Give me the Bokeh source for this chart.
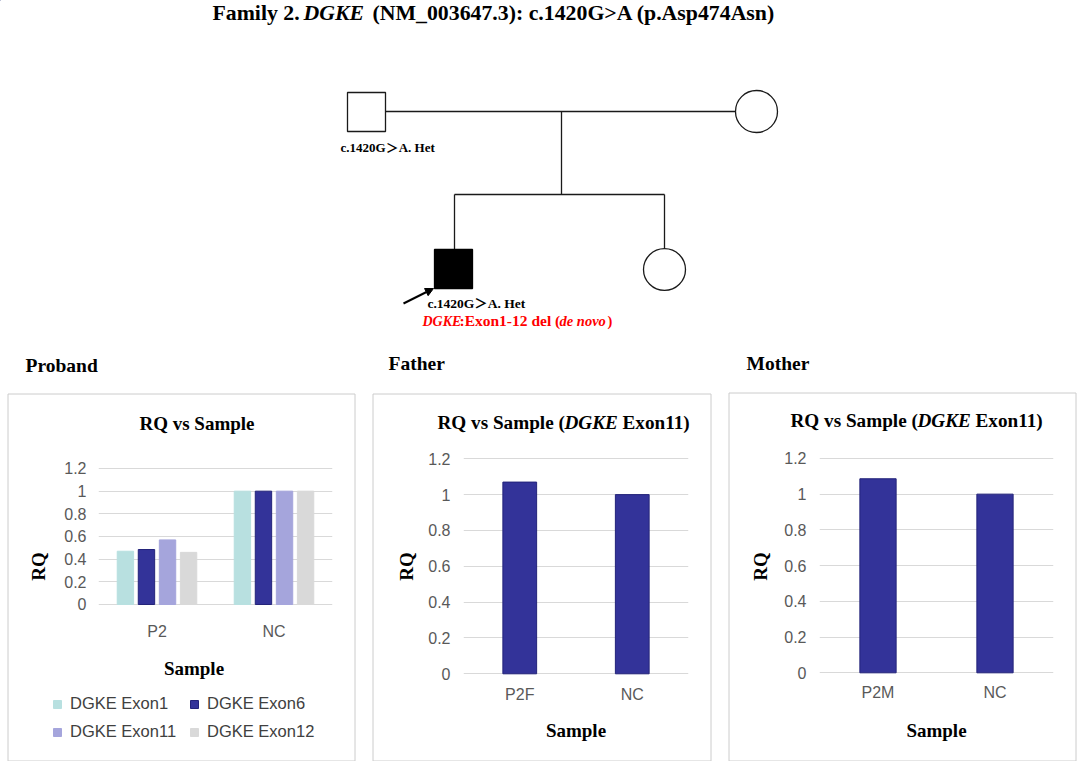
from bokeh.plotting import figure
from bokeh.models import (Range1d, FactorRange, Legend, LegendItem, FixedTicker,
                          Arrow, NormalHead, ColumnDataSource, Spacer)
from bokeh.layouts import column, row
from bokeh.transform import dodge
from bokeh.core.properties import value
from bokeh.embed import file_html
from bokeh.resources import INLINE

# ---------------- data ----------------
proband_samples = ["P2", "NC"]
exon_names = ["DGKE Exon1", "DGKE Exon6", "DGKE Exon11", "DGKE Exon12"]
exon1_rq = [0.47, 1.0]
exon6_rq = [0.485, 1.0]
exon11_rq = [0.57, 1.0]
exon12_rq = [0.46, 1.0]
father_samples = ["P2F", "NC"]
father_rq = [1.07, 1.0]
mother_samples = ["P2M", "NC"]
mother_rq = [1.086, 1.0]
y_ticks = [0, 0.2, 0.4, 0.6, 0.8, 1.0, 1.2]
y_tick_labels = ["0", "0.2", "0.4", "0.6", "0.8", "1", "1.2"]

SERIF = "'Liberation Serif', 'Times New Roman', 'Noto Sans CJK SC', serif"
SANS = "'Liberation Sans', Arial, sans-serif"
BOX = "#cccccc"
fills = ["#b8e0e0", "#333399", "#a5a5dc", "#d9d9d9"]
lines = ["#b8e0e0", "#23237a", "#a5a5dc", "#d9d9d9"]

# ---------------- background page: title, pedigree, headings, boxes ----------------
PAGE_H = 761
CH_H = 321
bg = figure(width=1084, height=PAGE_H, x_range=Range1d(0, 1084), y_range=Range1d(PAGE_H, 0),
            output_backend="svg", toolbar_location=None,
            x_axis_location=None, y_axis_location=None, min_border=0)
bg.xgrid.visible = False
bg.ygrid.visible = False
bg.outline_line_color = None
bg.background_fill_color = "white"
bg.border_fill_color = "white"


def ttext(x, y, s, size, style="bold", color="black", align="left"):
    # y is the wanted baseline; the svg text sits a little low, so lift it
    bg.text(x=[x], y=[y - 0.36 * size], text=[s], text_font=value(SERIF),
            text_font_size=f"{size}px", text_font_style=style, text_color=color,
            text_align=align, text_baseline="alphabetic")


LC = "#1a1a1a"
# main title
ttext(212, 20.5, "Family 2.", 21.8)
ttext(303, 20.5, "DGKE", 21.8, "bold italic")
ttext(372, 20.5, "(NM_003647.3): c.1420G>A (p.Asp474Asn)", 21.8)

# pedigree
bg.segment(x0=[385, 561, 454, 454, 664], y0=[111, 111, 194, 194, 194],
           x1=[735, 561, 664, 454, 664], y1=[111, 194, 194, 249, 248],
           line_color=LC, line_width=1.3)
bg.quad(left=[347], right=[385], top=[92], bottom=[131], fill_color="white",
        line_color=LC, line_width=1.3)
bg.circle(x=[756], y=[111], radius=21, fill_color="white", line_color=LC, line_width=1.3)
bg.quad(left=[434], right=[472], top=[249], bottom=[288], fill_color="black",
        line_color="black", line_width=1.3)
bg.circle(x=[664], y=[269], radius=21, fill_color="white", line_color=LC, line_width=1.3)
bg.add_layout(Arrow(end=NormalHead(size=8, fill_color="black", line_color="black"),
                    x_start=403, y_start=303, x_end=433, y_end=288,
                    line_color="black", line_width=2))

ttext(340, 151.5, "c.1420G\uff1eA. Het", 13)
ttext(427, 307.5, "c.1420G\uff1eA. Het", 13.5)
RED = "#ff0000"
ttext(422, 326, "DGKE", 14, "bold italic", RED)
ttext(459, 326, ":Exon1-12 del (", 15.5, "bold", RED)
ttext(559, 326, "de novo", 14.5, "bold italic", RED)
ttext(607, 326, ")", 14.5, "bold", RED)

# panel headings
ttext(25, 372, "Proband", 19.5)
ttext(388, 370.5, "Father", 19.5)
ttext(746, 370.5, "Mother", 19.5)

# chart boxes
bg.quad(left=[7.5, 372.5, 728.5], right=[354.5, 710.5, 1075.5],
        top=[393.5, 393.5, 392.5], bottom=[760.5, 760.5, 760.5],
        fill_color=None, line_color=BOX, line_width=1)

# chart titles
ttext(196.5, 430, "RQ vs Sample", 19, align="center")
ttext(437, 429.3, "RQ vs Sample (", 19.2)
ttext(564, 429.3, "DGKE", 19.2, "bold italic")
ttext(622, 429.3, "Exon11)", 19.2)
ttext(790, 427.3, "RQ vs Sample (", 19.2)
ttext(917, 427.3, "DGKE", 19.2, "bold italic")
ttext(975, 427.3, "Exon11)", 19.2)

# proband x-axis title (drawn here so it is not clipped by the chart frame)
ttext(193.5, 675, "Sample", 19, align="center")

# proband legend (swatches in the series colours; the key glyphs sit off-page)
keys = [bg.vbar(x=[-100], top=[0], width=1, fill_color=fc, line_color=lc)
        for fc, lc in zip(fills, lines)]
leg = Legend(items=[LegendItem(label=n, renderers=[r]) for n, r in zip(exon_names, keys)],
             location=(52, 20), orientation="horizontal", ncols=2, padding=0, margin=0,
             spacing=9, glyph_width=10, glyph_height=10, label_standoff=8, label_width=110,
             label_height=18, label_text_font=SANS, label_text_font_size="16.5px",
             label_text_color="#404040", background_fill_alpha=0, border_line_color=None)
bg.add_layout(leg, "center")


# ---------------- chart helper ----------------
def make_chart(samples, width, y_start, y_end, x_std, x_lab_std, y_std, y_lab_std):
    p = figure(width=width, height=CH_H, x_range=FactorRange(*samples),
               y_range=Range1d(y_start, y_end), output_backend="svg", toolbar_location=None,
               min_border_left=90, min_border_right=22, min_border_top=17,
               min_border_bottom=86)
    p.outline_line_color = None
    p.background_fill_color = None
    p.border_fill_color = None
    p.xgrid.visible = False
    p.ygrid.ticker = FixedTicker(ticks=y_ticks)
    p.ygrid.grid_line_color = "#d9d9d9"
    p.ygrid.grid_line_width = 1
    p.yaxis.ticker = FixedTicker(ticks=y_ticks)
    p.yaxis.major_label_overrides = dict(zip(y_ticks, y_tick_labels))
    for ax in (p.xaxis[0], p.yaxis[0]):
        ax.axis_line_color = None
        ax.major_tick_line_color = None
        ax.minor_tick_line_color = None
        ax.major_tick_out = 0
        ax.major_tick_in = 0
        ax.minor_tick_out = 0
        ax.major_label_text_font = SANS
        ax.major_label_text_font_size = "16px"
        ax.major_label_text_color = "#595959"
        ax.axis_label_text_font = SERIF
        ax.axis_label_text_font_size = "19px"
        ax.axis_label_text_font_style = "bold"
        ax.axis_label_text_color = "black"
    p.yaxis.major_label_standoff = y_std
    p.xaxis.major_label_standoff = x_std
    p.yaxis.axis_label_standoff = y_lab_std
    p.xaxis.axis_label_standoff = x_lab_std
    p.yaxis.axis_label = "RQ"
    p.xaxis.axis_label = "Sample"
    return p


# ---------------- proband chart ----------------
p1 = make_chart(proband_samples, 346, -0.6265, 1.297, 19, 16, 12, 12)
p1.xaxis.fixed_location = 0
p1.xaxis.axis_label = None
src1 = ColumnDataSource(dict(sample=proband_samples, e1=exon1_rq, e6=exon6_rq,
                             e11=exon11_rq, e12=exon12_rq))
offsets = [-0.27, -0.09, 0.09, 0.27]
cols = ["e1", "e6", "e11", "e12"]
for c, off, fc, lc in zip(cols, offsets, fills, lines):
    p1.vbar(x=dodge("sample", off, range=p1.x_range), top=c, width=0.14, source=src1,
            fill_color=fc, line_color=lc, line_width=1)

# ---------------- father chart ----------------
p2 = make_chart(father_samples, 337, -0.0095, 1.2072, 10, 14, 13, 8)
p2.vbar(x=father_samples, top=father_rq, width=0.30, fill_color="#333399",
        line_color="#23237a", line_width=1)

# ---------------- mother chart ----------------
p3 = make_chart(mother_samples, 346, -0.015, 1.205, 8, 16, 13, 10)
p3.vbar(x=mother_samples, top=mother_rq, width=0.31, fill_color="#333399",
        line_color="#23237a", line_width=1)

charts = row(Spacer(width=8), p1, Spacer(width=19), p2, Spacer(width=19), p3, spacing=0,
             styles={"margin-top": f"-{CH_H}px"})
layout = column(bg, charts, spacing=0)
open("out.html", "w").write(file_html(layout, INLINE))
